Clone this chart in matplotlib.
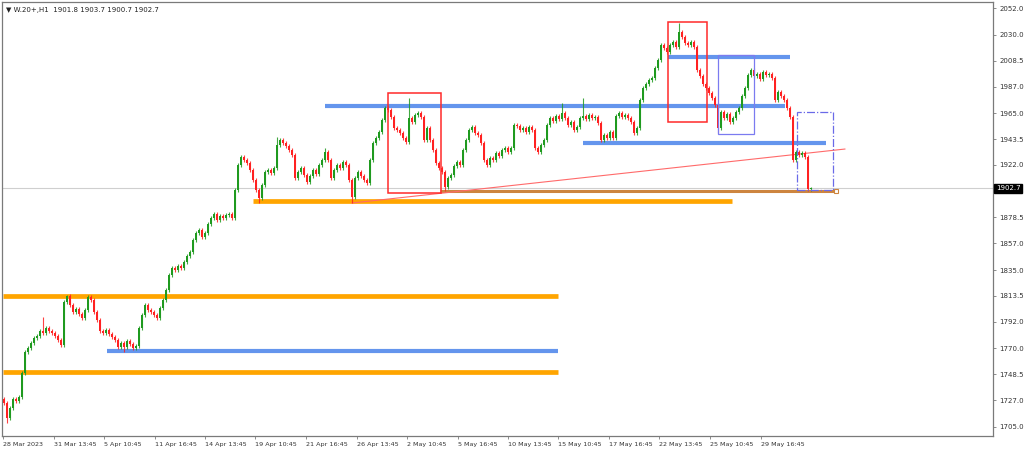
import matplotlib
matplotlib.use("Agg")
import matplotlib.pyplot as plt
import matplotlib.transforms as mtransforms
from matplotlib.patches import Rectangle
import numpy as np

### DATA
symbol_title = "W.20+,H1  1901.8 1903.7 1900.7 1902.7"
last_price = 1902.7
first_open = 1728.0

# hourly closes
closes = [
    1724.9, 1712.5, 1720.7, 1728.2, 1726.5, 1729.8, 1749.7, 1767.1, 1770.4, 1774.6,
    1778.7, 1780.4, 1784.5, 1782.9, 1787.0, 1784.5, 1782.9, 1780.4, 1777.1, 1772.9,
    1808.5, 1813.5, 1806.0, 1800.2, 1802.7, 1798.6, 1795.3, 1801.9, 1812.7, 1810.2,
    1800.2, 1793.6, 1784.5, 1782.9, 1785.3, 1782.0, 1779.5, 1777.1, 1771.3, 1774.6,
    1771.3, 1776.2, 1773.7, 1770.4, 1772.1, 1787.0, 1797.8, 1806.0, 1801.9, 1800.2,
    1797.8, 1795.3, 1803.6, 1810.2, 1818.5, 1830.9, 1836.7, 1835.0, 1838.3, 1836.7,
    1841.7, 1846.6, 1849.9, 1859.9, 1865.7, 1868.2, 1862.4, 1865.7, 1873.1, 1878.1,
    1881.4, 1876.4, 1879.8, 1878.1, 1880.6, 1881.4, 1878.1, 1901.3, 1922.0, 1928.6,
    1926.1, 1923.6, 1917.8, 1909.6, 1901.3, 1894.7, 1905.4, 1916.2, 1917.8, 1915.4,
    1919.5, 1938.6, 1942.7, 1940.2, 1937.7, 1934.4, 1930.3, 1911.2, 1916.2, 1919.5,
    1913.7, 1907.9, 1912.9, 1917.8, 1914.5, 1922.0, 1926.1, 1932.8, 1926.1, 1911.2,
    1917.8, 1922.0, 1919.5, 1924.5, 1922.0, 1909.6, 1895.5, 1911.2, 1916.2, 1912.9,
    1909.6, 1907.1, 1926.1, 1940.2, 1944.4, 1949.3, 1959.3, 1969.2, 1967.5, 1961.7,
    1952.6, 1951.0, 1948.5, 1944.4, 1941.0, 1960.9, 1957.6, 1963.4, 1965.1, 1961.7,
    1942.7, 1952.6, 1942.7, 1934.4, 1923.6, 1919.5, 1916.2, 1903.8, 1911.2, 1913.7,
    1921.2, 1924.5, 1922.0, 1934.4, 1942.7, 1951.0, 1953.5, 1948.5, 1946.8, 1940.2,
    1926.1, 1922.0, 1927.8, 1926.1, 1931.9, 1929.4, 1934.4, 1936.1, 1932.8, 1936.1,
    1955.1, 1954.3, 1951.0, 1952.6, 1949.3, 1953.5, 1951.0, 1936.1, 1932.8, 1938.6,
    1942.7, 1955.1, 1960.9, 1958.4, 1962.6, 1960.1, 1965.1, 1960.9, 1955.1, 1957.6,
    1951.0, 1953.5, 1960.9, 1962.6, 1960.1, 1963.4, 1960.9, 1961.7, 1956.8, 1942.7,
    1946.8, 1944.4, 1949.3, 1944.4, 1962.6, 1965.1, 1961.7, 1963.4, 1960.9, 1957.6,
    1948.5, 1952.6, 1975.8, 1985.8, 1989.1, 1992.4, 1994.0, 2002.3, 2008.9, 2021.4,
    2018.9, 2015.6, 2021.4, 2023.9, 2019.7, 2032.1, 2028.0, 2023.0, 2021.4, 2023.9,
    2019.7, 2000.7, 1995.7, 1989.1, 1985.8, 1981.6, 1977.5, 1971.7, 1952.6, 1965.9,
    1960.9, 1964.2, 1957.6, 1960.9, 1965.9, 1969.2, 1979.1, 1985.8, 1996.5, 2000.7,
    1995.7, 1997.4, 1993.2, 1999.0, 1996.5, 1997.4, 1994.0, 1975.8, 1982.4, 1979.1,
    1975.8, 1969.2, 1961.7, 1926.1, 1932.8, 1930.3, 1931.9, 1928.6, 1901.8, 1902.7,
]

# notable wick extremes (bar index -> price)
high_marks = {13: 1796.1, 21: 1814.3, 28: 1814.3, 91: 1945.2, 107: 1936.1,
              127: 1970.9, 135: 1977.5, 186: 1973.3, 193: 1977.5, 225: 2039.6,
              269: 1903.7}
low_marks = {1: 1708.3, 40: 1767.1, 85: 1890.5, 116: 1890.5, 147: 1900.5,
             238: 1948.5, 268: 1900.7, 269: 1900.7}

# horizontal levels drawn on the chart: price, start bar, end bar
orange_levels = [(1813.5, -0.5, 184.7), (1750.6, -0.5, 184.7), (1892.2, 83.0, 242.7)]
blue_levels = [(1767.9, 34.3, 184.7), (1970.9, 107.0, 260.3),
               (1940.2, 193.0, 274.0), (2011.4, 221.3, 262.0)]
brown_level = (1900.5, 145.3, 277.3)
trend_bars = [116.0, 280.3]
trend_prices = [1890.5, 1935.2]

# boxes: bar0, bar1, price_low, price_high
red_boxes = [(128.0, 145.7, 1898.8, 1981.6), (221.3, 234.3, 1957.6, 2040.4)]
blue_box = (238.0, 250.0, 1947.7, 2013.1)
dash_box = (264.3, 276.3, 1901.3, 1965.9)

price_ticks = [2052.0, 2030.0, 2008.5, 1987.0, 1965.0, 1943.5, 1922.0, 1900.0,
               1878.5, 1857.0, 1835.0, 1813.5, 1792.0, 1770.0, 1748.5, 1727.0, 1705.0]
date_ticks = [-0.3, 16.5, 33.3, 50.2, 67.0, 83.8, 100.7, 117.5, 134.3, 151.2,
              168.0, 184.8, 201.7, 218.5, 235.3, 252.2]
date_labels = ["28 Mar 2023", "31 Mar 13:45", "5 Apr 10:45", "11 Apr 16:45",
               "14 Apr 13:45", "19 Apr 10:45", "21 Apr 16:45", "26 Apr 13:45",
               "2 May 10:45", "5 May 16:45", "10 May 13:45", "15 May 10:45",
               "17 May 16:45", "22 May 13:45", "25 May 10:45", "29 May 16:45"]

### BUILD OHLC
closes = np.array(closes)
opens = np.concatenate([[first_open], closes[:-1]])
opens[-1] = 1901.8
wick = 1.8
highs = np.maximum(opens, closes) + wick
lows = np.minimum(opens, closes) - wick
for k, v in high_marks.items():
    highs[k] = v
for k, v in low_marks.items():
    lows[k] = v
idx = np.arange(len(closes))

### PLOT
plt.rcParams['font.family'] = ['DejaVu Sans']
fig = plt.figure(figsize=(10.24, 4.49), dpi=100)
ax = fig.add_axes([2 / 1024, 13 / 449, 991 / 1024, 434 / 449])
ax.set_xlim(-0.67, 329.67)
ax.set_ylim(1697.5, 2057.0)

# current price line
ax.axhline(last_price, color='#cfcfcf', lw=0.8, zorder=1)

# levels
for p, b0, b1 in orange_levels:
    ax.hlines(p, b0, b1, color='#ffa500', lw=3.4, zorder=2)
for p, b0, b1 in blue_levels:
    ax.hlines(p, b0, b1, color='#6495ed', lw=3.0, zorder=2)
ax.hlines(brown_level[0], brown_level[1], brown_level[2], color='#cd853f', lw=2.2, zorder=2)
ax.plot([brown_level[2]], [brown_level[0]], marker='s', ms=3, mfc='white',
        mec='#cd853f', mew=0.8, zorder=3)
ax.plot(trend_bars, trend_prices, color='#ff6a6a', lw=0.8, zorder=3)

# candles
up = closes >= opens
col = np.where(up, '#1f9a1f', '#ff2121')
ax.vlines(idx, lows, highs, colors=col, lw=0.8, alpha=0.85, zorder=4)
body_lo = np.minimum(opens, closes)
body_h = np.maximum(np.abs(closes - opens), 0.5)
ax.bar(idx, body_h, bottom=body_lo, width=0.72, color=col, linewidth=0, zorder=5)

# boxes
for b0, b1, p0, p1 in red_boxes:
    ax.add_patch(Rectangle((b0, p0), b1 - b0, p1 - p0, fill=False,
                           ec='#ff2a2a', lw=1.1, zorder=6))
ax.add_patch(Rectangle((blue_box[0], blue_box[2]), blue_box[1] - blue_box[0],
                       blue_box[3] - blue_box[2], fill=False, ec='#7b7bf0', lw=0.9, zorder=6))
ax.add_patch(Rectangle((dash_box[0], dash_box[2]), dash_box[1] - dash_box[0],
                       dash_box[3] - dash_box[2], fill=False, ec='#6a6ae8', lw=0.9,
                       ls='-.', zorder=6))

# axes styling
for s in ax.spines.values():
    s.set_color('#7a7a7a')
    s.set_linewidth(0.9)
ax.yaxis.tick_right()
ax.set_yticks(price_ticks)
# the 1900.0 label sits under the current price box, so it is left blank
ax.set_yticklabels(["" if v == 1900.0 else "%.1f" % v for v in price_ticks])
ax.set_xticks(date_ticks)
ax.set_xticklabels(date_labels, ha='left')
ax.tick_params(axis='both', direction='out', length=2.5, width=0.6, color='#7a7a7a',
               labelsize=5, labelcolor='#333333', pad=1.5)
ax.tick_params(axis='x', labelsize=4.6)
ax.tick_params(axis='y', pad=2)

# price box on axis
trans = mtransforms.blended_transform_factory(ax.transAxes, ax.transData)
ax.text(1.003, last_price, "%.1f" % last_price, transform=trans, fontsize=5,
        color='white', va='center', ha='left', clip_on=False, zorder=10,
        bbox=dict(boxstyle='square,pad=0.25', fc='black', ec='black'))

# header
ax.text(0.004, 0.988, "\u25bc " + symbol_title, transform=ax.transAxes, fontsize=5,
        color='#222222', va='top', ha='left')

fig.savefig('out.png', dpi=100)
